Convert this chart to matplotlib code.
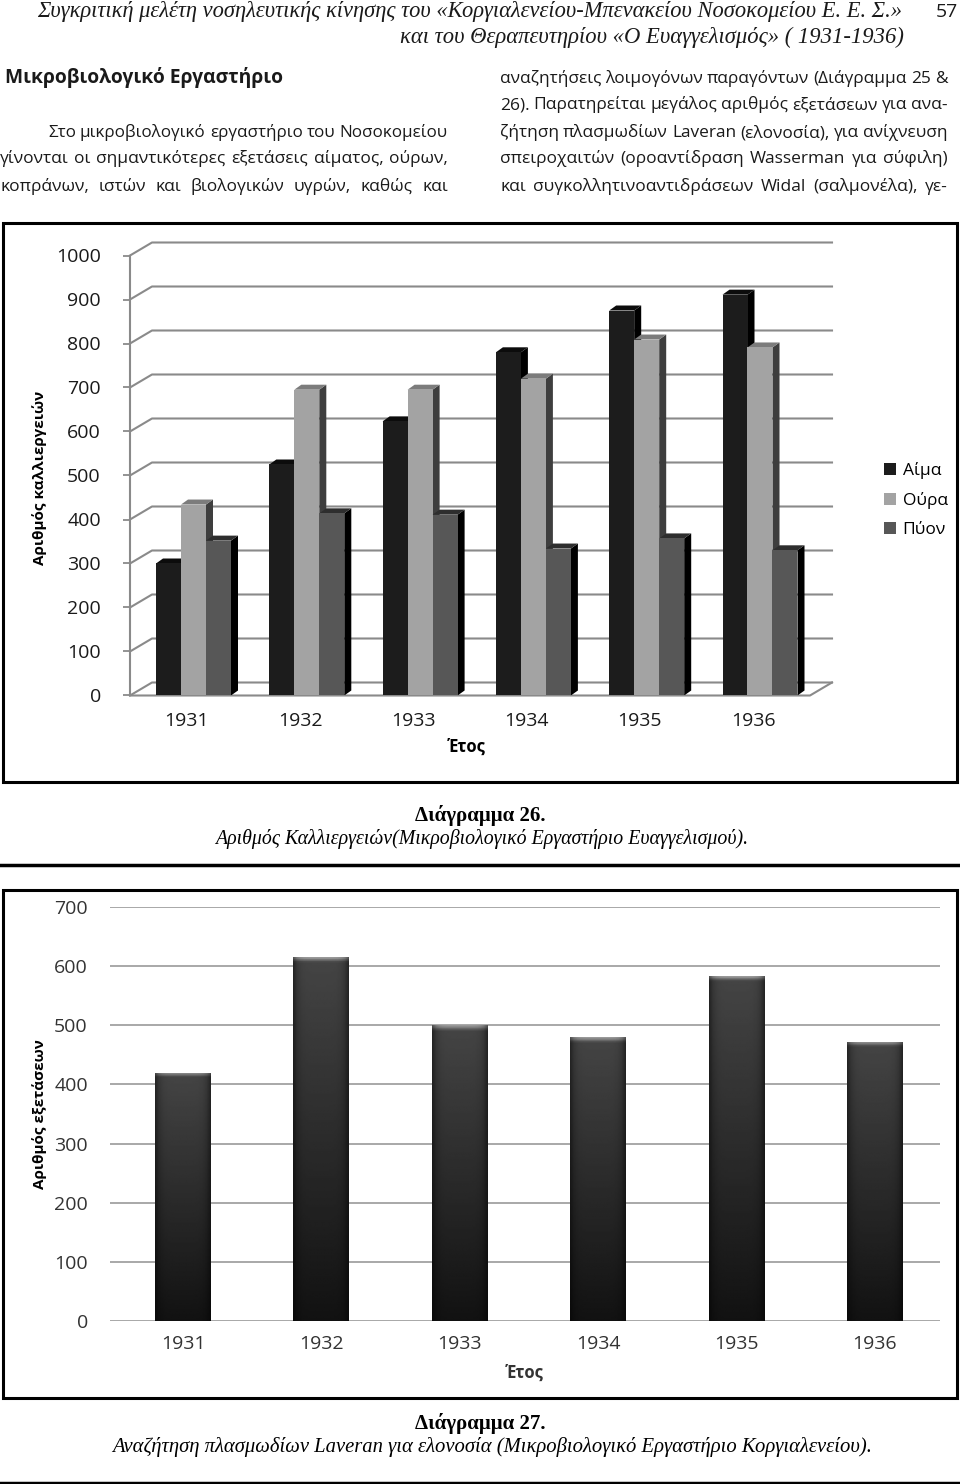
import numpy as np
import matplotlib.pyplot as plt
from matplotlib.patches import Polygon, Rectangle
from matplotlib.lines import Line2D

# page size in pixels
W, H = 960, 1484

years = ['1931', '1932', '1933', '1934', '1935', '1936']
series = ['Αίμα', 'Ούρα', 'Πύον']
blood = [300, 525, 623, 780, 875, 911]
urine = [434, 695, 695, 720, 809, 791]
pus = [352, 414, 411, 334, 357, 330]
laveran = [420, 615, 500, 480, 583, 472]

front_cols = ['#1c1c1c', '#a3a3a3', '#575757']
top_cols = ['#0c0c0c', '#7c7c7c', '#2e2e2e']
side_cols = ['#000000', '#3e3e3e', '#000000']

SANS = ['Open Sans', 'DejaVu Sans']
SERIF = ['Liberation Serif', 'DejaVu Serif']

fig = plt.figure(figsize=(W / 100, H / 100), dpi=100)
r = fig.canvas.get_renderer()


def fx(x):
    return x / W


def fy(y):
    return 1 - y / H


def ptext(x, y, s, **kw):
    kw.setdefault('family', SANS)
    kw.setdefault('va', 'center')
    return fig.text(fx(x), fy(y), s, **kw)


def fit(x0, x1, y, s, size, **kw):
    # scale the font so the line spans x0..x1
    t = ptext(x0, y, s, fontsize=size, **kw)
    w = t.get_window_extent(r).width
    t.set_fontsize(size * (x1 - x0) / w)
    return t


def justify(x0, x1, y, line, size=12.5):
    words = line.split()
    ts = [ptext(0, y + 6, w, fontsize=size, color='#1a1a1a', va='baseline') for w in words]
    ws = [t.get_window_extent(r).width for t in ts]
    gap = (x1 - x0 - sum(ws)) / (len(words) - 1)
    if gap < 4:
        k = (x1 - x0 - 4 * (len(words) - 1)) / sum(ws)
        for t in ts:
            t.set_fontsize(size * k)
        ws = [w * k for w in ws]
        gap = 4
    x = x0
    for t, w in zip(ts, ws):
        t.set_x(fx(x))
        x += w + gap


def px_axes(left, top, right, bottom):
    return fig.add_axes([fx(left), fy(bottom), (right - left) / W, (bottom - top) / H])


# ---- page header and text ----
fit(37, 905, 12, 'Συγκριτική μελέτη νοσηλευτικής κίνησης του «Κοργιαλενείου-Μπενακείου Νοσοκομείου Ε. Ε. Σ.»',
    14, family=SERIF, style='italic', color='#1a1a1a')
fit(400, 905, 37, 'και του Θεραπευτηρίου «Ο Ευαγγελισμός» ( 1931-1936)',
    14, family=SERIF, style='italic', color='#1a1a1a')
ptext(958, 12, '57', fontsize=14, ha='right', color='#1a1a1a')

fit(5, 283, 77, 'Μικροβιολογικό Εργαστήριο', 14, fontweight='bold', color='#1a1a1a')
justify(48, 448, 131, 'Στο μικροβιολογικό εργαστήριο του Νοσοκομείου')
justify(0, 448, 157, 'γίνονται οι σημαντικότερες εξετάσεις αίματος, ούρων,')
justify(0, 448, 185, 'κοπράνων, ιστών και βιολογικών υγρών, καθώς και')
justify(500, 948, 77, 'αναζητήσεις λοιμογόνων παραγόντων (Διάγραμμα 25 &')
justify(500, 948, 103, '26). Παρατηρείται μεγάλος αριθμός εξετάσεων για ανα-')
justify(500, 948, 131, 'ζήτηση πλασμωδίων Laveran (ελονοσία), για ανίχνευση')
justify(500, 948, 157, 'σπειροχαιτών (οροαντίδραση Wasserman για σύφιλη)')
justify(500, 948, 185, 'και συγκολλητινοαντιδράσεων Widal (σαλμονέλα), γε-')

# frames and rules
for (l, t, rr, b) in [(3, 223, 957, 782), (3, 890, 957, 1398)]:
    fig.patches.append(Rectangle((fx(l), fy(b)), (rr - l) / W, (b - t) / H, transform=fig.transFigure,
                                 fill=False, ec='black', lw=2.2))
for yy in [865, 1483]:
    fig.lines.append(Line2D([0, 1], [fy(yy), fy(yy)], transform=fig.transFigure, color='black', lw=2.5))

# ---- chart 1: 3D clustered columns ----
pxx = 113.3              # px per category
pxy = 0.44               # px per unit
c0 = 193.5               # px of first group centre
xl = (130 - c0) / pxx
ax1 = px_axes(130, 240, 860, 695.5)
ax1.set_xlim(xl, (860 - c0) / pxx)
ax1.set_ylim(0, (695.5 - 240) / pxy)
ax1.patch.set_visible(False)
for s in ['top', 'right', 'bottom']:
    ax1.spines[s].set_visible(False)
ax1.spines['left'].set_bounds(0, 1000)
ax1.spines['left'].set_color('#8a8a8a')
ax1.spines['left'].set_linewidth(1.5)
ax1.set_yticks(range(0, 1001, 100))
ax1.tick_params(axis='y', length=5, width=1.3, color='#8a8a8a', pad=16, labelsize=14, labelcolor='#1a1a1a')
for lab in ax1.get_yticklabels():
    lab.set_family(SANS)
ax1.set_xticks(np.arange(6) - 0.06)
ax1.set_xticklabels(years, family=SANS, fontsize=14, color='#1a1a1a')
ax1.tick_params(axis='x', length=0, pad=12)

bdx, bdy = 22 / pxx, 13 / pxy          # back wall depth
xb = (832 - c0) / pxx
for v in range(0, 1001, 100):
    ax1.plot([xl, xl + bdx, xb], [v, v + bdy, v + bdy], color='#8a8a8a', lw=1.5, zorder=1, clip_on=False)
xf = (810 - c0) / pxx
ax1.plot([xl, xf, xb], [0, 0, bdy], color='#8a8a8a', lw=1.5, zorder=1, clip_on=False)

bw = 25 / pxx
ddx, ddy = 7 / pxx, 5 / pxy            # bar depth
for j, vals in enumerate([blood, urine, pus]):
    xs = np.arange(6) + (j - 1) * bw
    bars = ax1.bar(xs, vals, width=bw, color=front_cols[j], label=series[j])
    for i, (p, v) in enumerate(zip(bars, vals)):
        z = 2 + i + j * 0.1
        p.set_zorder(z + 0.05)
        a, b = xs[i] - bw / 2, xs[i] + bw / 2
        ax1.add_patch(Polygon([(b, 0), (b + ddx, ddy), (b + ddx, v + ddy), (b, v)],
                              closed=True, fc=side_cols[j], ec='none', zorder=z))
        ax1.add_patch(Polygon([(a, v), (b, v), (b + ddx, v + ddy), (a + ddx, v + ddy)],
                              closed=True, fc=top_cols[j], ec='none', zorder=z))

ax1.legend(loc='center left', bbox_to_anchor=(fx(868), fy(500)), bbox_transform=fig.transFigure,
           frameon=False, handlelength=0.7, handleheight=0.7, handletextpad=0.4, labelspacing=0.75,
           prop={'family': SANS, 'size': 12.5})
ptext(40, 478, 'Αριθμός καλλιεργειών', rotation=90, ha='center', fontsize=11, fontweight='bold')
ptext(467, 747, 'Έτος', ha='center', fontsize=12, fontweight='bold')

ptext(480, 816, 'Διάγραμμα 26.', ha='center', family=SERIF, fontweight='bold', fontsize=15)
fit(215, 745, 839, 'Αριθμός Καλλιεργειών(Μικροβιολογικό Εργαστήριο Ευαγγελισμού).', 13,
    family=SERIF, style='italic')

# ---- chart 2: simple columns with gradient ----
c2 = 183
pxx2 = 138.4
ax2 = px_axes(110, 907, 940, 1321)
ax2.patch.set_visible(False)
for s in ax2.spines.values():
    s.set_visible(False)
ax2.set_yticks(range(0, 701, 100))
ax2.yaxis.grid(True, color='#a8a8a8', lw=1.4)
ax2.set_axisbelow(True)
ax2.tick_params(axis='y', length=0, pad=16, labelsize=14, labelcolor='#333333')
for lab in ax2.get_yticklabels():
    lab.set_family(SANS)
ax2.set_xticks(range(6))
ax2.set_xticklabels(years, family=SANS, fontsize=14, color='#333333')
ax2.tick_params(axis='x', length=0, pad=10)

bw2 = 56 / pxx2
bars2 = ax2.bar(range(6), laveran, width=bw2, color='#2b2b2b', zorder=2)
# shading: darker towards bottom and at the sides, light rim at the top
ny, nx = 200, 40
vert = np.linspace(0.07, 0.27, ny)[:, None]
hor = 1 - 0.45 * np.abs(np.linspace(-1, 1, nx))[None, :] ** 6
shade = vert * hor
for i, (p, v) in enumerate(zip(bars2, laveran)):
    img = shade.copy()
    rim = max(1, int(ny * 6 / (v * 0.591)))
    img[-rim:, :] = np.linspace(0.3, 0.6, rim)[:, None] * hor
    im = ax2.imshow(img, cmap='gray', vmin=0, vmax=1, origin='lower', aspect='auto',
                    extent=(i - bw2 / 2, i + bw2 / 2, 0, v), zorder=2.5)
    im.set_clip_path(p)
ax2.set_xlim((110 - c2) / pxx2, (940 - c2) / pxx2)
ax2.set_ylim(0, 700)

ptext(40, 1114, 'Αριθμός εξετάσεων', rotation=90, ha='center', fontsize=11, fontweight='bold')
ptext(525, 1373, 'Έτος', ha='center', fontsize=12, fontweight='bold', color='#333333')

ptext(480, 1423, 'Διάγραμμα 27.', ha='center', family=SERIF, fontweight='bold', fontsize=15)
fit(112, 870, 1447, 'Αναζήτηση πλασμωδίων Laveran για ελονοσία (Μικροβιολογικό Εργαστήριο Κοργιαλενείου).', 13,
    family=SERIF, style='italic')

fig.savefig('out.png', dpi=100)
